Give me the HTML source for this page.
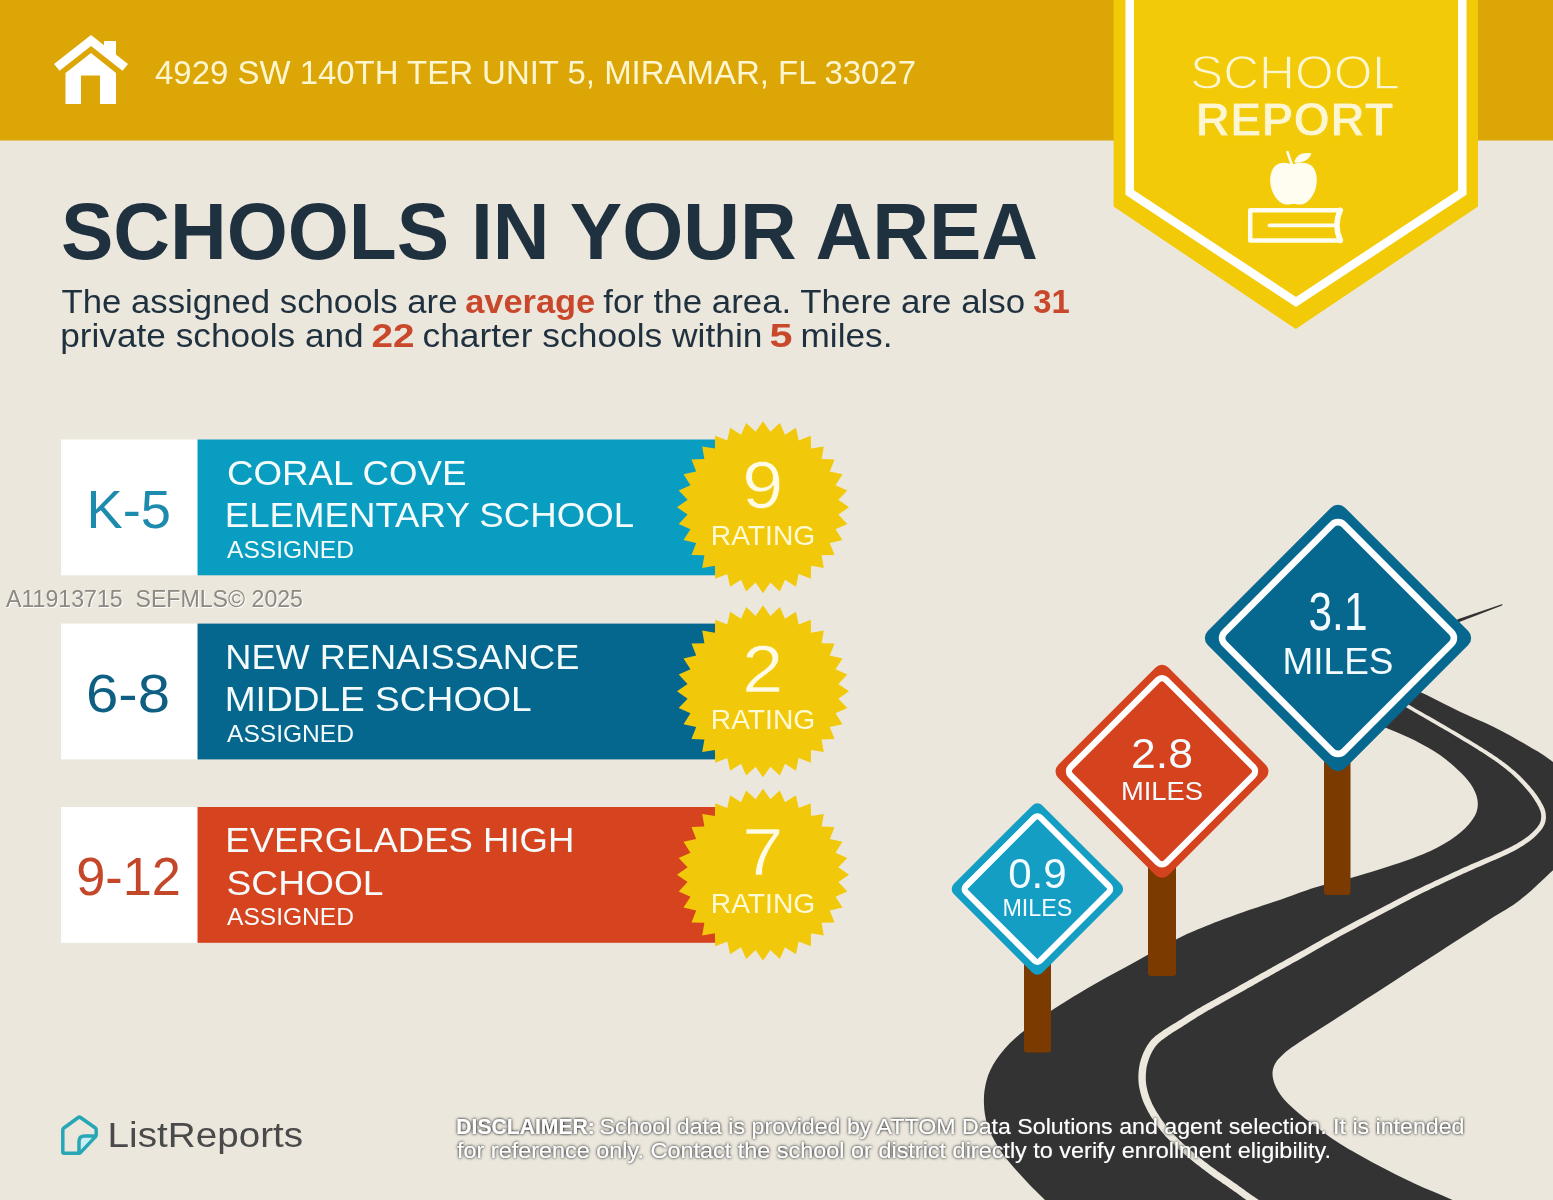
<!DOCTYPE html>
<html lang="en"><head><meta charset="utf-8"><title>School Report</title>
<style>html,body{margin:0;padding:0;background:#EBE7DD;}body{width:1553px;height:1200px;overflow:hidden;}svg{display:block;font-family:"Liberation Sans", sans-serif;}</style></head><body>
<svg width="1553" height="1200" viewBox="0 0 1553 1200">
<defs><filter id="glow" x="-5%" y="-30%" width="110%" height="160%"><feGaussianBlur in="SourceAlpha" stdDeviation="1.5" result="b"/><feComponentTransfer in="b" result="b2"><feFuncA type="linear" slope="1.5"/></feComponentTransfer><feFlood flood-color="#3a3a3a"/><feComposite in2="b2" operator="in" result="sh"/><feMerge><feMergeNode in="sh"/><feMergeNode in="SourceGraphic"/></feMerge></filter></defs>
<rect width="1553" height="1200" fill="#EBE7DD"/>
<g opacity="0.999">
<rect x="0" y="0" width="1553" height="140.5" fill="#DCA606"/>
<g fill="#fff">
<path d="M91,35 L54,64 L59.5,70.8 L91,46 L122.5,70.8 L128,64 Z"/>
<path d="M104,41 H116 V57 L104,47 Z"/>
<path d="M91,53 L116,73 V104 H100 V75.5 H81 V104 H65.5 V73 Z"/>
</g>
<text x="155.0" y="84.0" font-size="32.7" fill="#FDF6D0" textLength="761.0" lengthAdjust="spacingAndGlyphs">4929 SW 140TH TER UNIT 5, MIRAMAR, FL 33027</text>
<polygon points="1113.6,0 1478,0 1478,206.5 1295.8,329 1113.6,206.5" fill="#F2CA07"/>
<polyline points="1129.7,-6 1129.7,192.5 1296,302 1462.3,192.5 1462.3,-6" fill="none" stroke="#fff" stroke-width="8.5" stroke-linejoin="miter"/>
<text x="1295.0" y="89.0" font-size="48.5" fill="#FDF6D0" textLength="210.0" lengthAdjust="spacingAndGlyphs" text-anchor="middle" stroke="#F2CA07" stroke-width="1.3">SCHOOL</text>
<text x="1294.6" y="136.0" font-size="49.0" fill="#FDF6D0" font-weight="bold" textLength="198.0" lengthAdjust="spacingAndGlyphs" text-anchor="middle" stroke="#F2CA07" stroke-width="0.9">REPORT</text>
<g fill="#FFFDF0" stroke="none">
<path d="M1291.5,164.8 C1287,161.6 1279,162 1275,166 C1270,171 1269,181 1271.5,189 C1274,197 1280,204.6 1287,204.6 C1290,204.6 1291.5,203.9 1293.5,203.9 C1295.5,203.9 1297,204.6 1300,204.6 C1307,204.6 1313,197 1315.5,189 C1318,181 1317,171 1312,166 C1308,162 1298,161.6 1291.5,164.8 Z"/>
<path d="M1294.3,162.3 C1296,155 1303,151.8 1311.5,153.6 C1309,160.6 1301,163.8 1294.3,162.3 Z"/>
</g>
<path d="M1287.4,152 L1291.8,164.5" stroke="#FFFDF0" stroke-width="2.6" stroke-linecap="round" fill="none"/>
<g fill="none" stroke="#FFFDF0" stroke-linejoin="round" stroke-linecap="round">
<path d="M1340.3,210.2 H1250.2 V240.5 H1340.3" stroke-width="4.5"/>
<path d="M1340.3,210.2 Q1333.4,225.3 1340.3,240.5" stroke-width="5.6"/>
<path d="M1269.5,225.3 H1336" stroke-width="3.8"/>
</g>
<text x="61.0" y="259.0" font-size="80.0" fill="#1F303E" font-weight="bold" textLength="977.0" lengthAdjust="spacingAndGlyphs">SCHOOLS IN YOUR AREA</text>
<text x="61.5" y="313.3" font-size="32.8" fill="#1F303E" textLength="396.0" lengthAdjust="spacingAndGlyphs">The assigned schools are</text>
<text x="465.2" y="313.3" font-size="32.8" fill="#C9472B" font-weight="bold" textLength="130.0" lengthAdjust="spacingAndGlyphs">average</text>
<text x="603.2" y="313.3" font-size="32.8" fill="#1F303E" textLength="422.0" lengthAdjust="spacingAndGlyphs">for the area. There are also</text>
<text x="1033.2" y="313.3" font-size="32.8" fill="#C9472B" font-weight="bold" textLength="36.5" lengthAdjust="spacingAndGlyphs">31</text>
<text x="60.2" y="347.3" font-size="32.8" fill="#1F303E" textLength="303.5" lengthAdjust="spacingAndGlyphs">private schools and</text>
<text x="371.5" y="347.3" font-size="32.8" fill="#C9472B" font-weight="bold" textLength="43.0" lengthAdjust="spacingAndGlyphs">22</text>
<text x="422.5" y="347.3" font-size="32.8" fill="#1F303E" textLength="340.0" lengthAdjust="spacingAndGlyphs">charter schools within</text>
<text x="769.5" y="347.3" font-size="32.8" fill="#C9472B" font-weight="bold" textLength="23.0" lengthAdjust="spacingAndGlyphs">5</text>
<text x="800.5" y="347.3" font-size="32.8" fill="#1F303E" textLength="92.0" lengthAdjust="spacingAndGlyphs">miles.</text>
<rect x="61" y="439.5" width="137" height="135.8" fill="#fff"/>
<rect x="197.5" y="439.5" width="518" height="135.8" fill="#0A9DC2"/>
<text x="86.5" y="527.5" font-size="54.5" fill="#1C8BAE" textLength="84.5" lengthAdjust="spacingAndGlyphs">K-5</text>
<text x="227.0" y="484.5" font-size="35.6" fill="#F4FBFA" textLength="239.5" lengthAdjust="spacingAndGlyphs">CORAL COVE</text>
<text x="224.7" y="527.1" font-size="35.6" fill="#F4FBFA" textLength="409.5" lengthAdjust="spacingAndGlyphs">ELEMENTARY SCHOOL</text>
<text x="227.0" y="557.5" font-size="24.0" fill="#F4FBFA" textLength="127.0" lengthAdjust="spacingAndGlyphs">ASSIGNED</text>
<polygon points="763.0,421.2 770.4,431.8 779.8,422.9 785.0,434.7 795.9,427.7 798.7,440.4 810.8,435.7 811.1,448.6 823.8,446.4 821.6,459.1 834.5,459.4 829.8,471.5 842.5,474.3 835.5,485.2 847.3,490.4 838.4,499.8 849.0,507.2 838.4,514.6 847.3,524.0 835.5,529.2 842.5,540.1 829.8,542.9 834.5,555.0 821.6,555.3 823.8,568.0 811.1,565.8 810.8,578.7 798.7,574.0 795.9,586.7 785.0,579.7 779.8,591.5 770.4,582.6 763.0,593.2 755.6,582.6 746.2,591.5 741.0,579.7 730.1,586.7 727.3,574.0 715.2,578.7 714.9,565.8 702.2,568.0 704.4,555.3 691.5,555.0 696.2,542.9 683.5,540.1 690.5,529.2 678.7,524.0 687.6,514.6 677.0,507.2 687.6,499.8 678.7,490.4 690.5,485.2 683.5,474.3 696.2,471.5 691.5,459.4 704.4,459.1 702.2,446.4 714.9,448.6 715.2,435.7 727.3,440.4 730.1,427.7 741.0,434.7 746.2,422.9 755.6,431.8" fill="#F2C90A"/>
<text x="762.8" y="507.7" font-size="67.0" fill="#FFFBE6" textLength="41.0" lengthAdjust="spacingAndGlyphs" text-anchor="middle" stroke="#F2C90A" stroke-width="0.6">9</text>
<text x="763.0" y="545.1" font-size="27.6" fill="#FFF9D6" textLength="104.5" lengthAdjust="spacingAndGlyphs" text-anchor="middle">RATING</text>
<rect x="61" y="623.6" width="137" height="135.8" fill="#fff"/>
<rect x="197.5" y="623.6" width="518" height="135.8" fill="#05668E"/>
<text x="86.0" y="711.6" font-size="54.5" fill="#0F5F82" textLength="84.0" lengthAdjust="spacingAndGlyphs">6-8</text>
<text x="225.3" y="668.6" font-size="35.6" fill="#F4FBFA" textLength="354.0" lengthAdjust="spacingAndGlyphs">NEW RENAISSANCE</text>
<text x="224.7" y="711.2" font-size="35.6" fill="#F4FBFA" textLength="307.0" lengthAdjust="spacingAndGlyphs">MIDDLE SCHOOL</text>
<text x="227.0" y="741.6" font-size="24.0" fill="#F4FBFA" textLength="127.0" lengthAdjust="spacingAndGlyphs">ASSIGNED</text>
<polygon points="763.0,605.3 770.4,615.9 779.8,607.0 785.0,618.8 795.9,611.8 798.7,624.5 810.8,619.8 811.1,632.7 823.8,630.5 821.6,643.2 834.5,643.5 829.8,655.6 842.5,658.4 835.5,669.3 847.3,674.5 838.4,683.9 849.0,691.3 838.4,698.7 847.3,708.1 835.5,713.3 842.5,724.2 829.8,727.0 834.5,739.1 821.6,739.4 823.8,752.1 811.1,749.9 810.8,762.8 798.7,758.1 795.9,770.8 785.0,763.8 779.8,775.6 770.4,766.7 763.0,777.3 755.6,766.7 746.2,775.6 741.0,763.8 730.1,770.8 727.3,758.1 715.2,762.8 714.9,749.9 702.2,752.1 704.4,739.4 691.5,739.1 696.2,727.0 683.5,724.2 690.5,713.3 678.7,708.1 687.6,698.7 677.0,691.3 687.6,683.9 678.7,674.5 690.5,669.3 683.5,658.4 696.2,655.6 691.5,643.5 704.4,643.2 702.2,630.5 714.9,632.7 715.2,619.8 727.3,624.5 730.1,611.8 741.0,618.8 746.2,607.0 755.6,615.9" fill="#F2C90A"/>
<text x="762.8" y="691.8" font-size="67.0" fill="#FFFBE6" textLength="41.0" lengthAdjust="spacingAndGlyphs" text-anchor="middle" stroke="#F2C90A" stroke-width="0.6">2</text>
<text x="763.0" y="729.2" font-size="27.6" fill="#FFF9D6" textLength="104.5" lengthAdjust="spacingAndGlyphs" text-anchor="middle">RATING</text>
<rect x="61" y="807.0" width="137" height="135.8" fill="#fff"/>
<rect x="197.5" y="807.0" width="518" height="135.8" fill="#D6431F"/>
<text x="76.2" y="895.0" font-size="54.5" fill="#C4472A" textLength="104.7" lengthAdjust="spacingAndGlyphs">9-12</text>
<text x="225.3" y="852.0" font-size="35.6" fill="#F4FBFA" textLength="349.0" lengthAdjust="spacingAndGlyphs">EVERGLADES HIGH</text>
<text x="226.5" y="894.6" font-size="35.6" fill="#F4FBFA" textLength="157.0" lengthAdjust="spacingAndGlyphs">SCHOOL</text>
<text x="227.0" y="925.0" font-size="24.0" fill="#F4FBFA" textLength="127.0" lengthAdjust="spacingAndGlyphs">ASSIGNED</text>
<polygon points="763.0,788.7 770.4,799.3 779.8,790.4 785.0,802.2 795.9,795.2 798.7,807.9 810.8,803.2 811.1,816.1 823.8,813.9 821.6,826.6 834.5,826.9 829.8,839.0 842.5,841.8 835.5,852.7 847.3,857.9 838.4,867.3 849.0,874.7 838.4,882.1 847.3,891.5 835.5,896.7 842.5,907.6 829.8,910.4 834.5,922.5 821.6,922.8 823.8,935.5 811.1,933.3 810.8,946.2 798.7,941.5 795.9,954.2 785.0,947.2 779.8,959.0 770.4,950.1 763.0,960.7 755.6,950.1 746.2,959.0 741.0,947.2 730.1,954.2 727.3,941.5 715.2,946.2 714.9,933.3 702.2,935.5 704.4,922.8 691.5,922.5 696.2,910.4 683.5,907.6 690.5,896.7 678.7,891.5 687.6,882.1 677.0,874.7 687.6,867.3 678.7,857.9 690.5,852.7 683.5,841.8 696.2,839.0 691.5,826.9 704.4,826.6 702.2,813.9 714.9,816.1 715.2,803.2 727.3,807.9 730.1,795.2 741.0,802.2 746.2,790.4 755.6,799.3" fill="#F2C90A"/>
<text x="762.8" y="875.2" font-size="67.0" fill="#FFFBE6" textLength="41.0" lengthAdjust="spacingAndGlyphs" text-anchor="middle" stroke="#F2C90A" stroke-width="0.6">7</text>
<text x="763.0" y="912.6" font-size="27.6" fill="#FFF9D6" textLength="104.5" lengthAdjust="spacingAndGlyphs" text-anchor="middle">RATING</text>
<text x="7.0" y="608.0" font-size="23.0" fill="#ffffff" textLength="297.0" lengthAdjust="spacingAndGlyphs">A11913715&#160;&#160;SEFMLS&#169; 2025</text>
<text x="6.0" y="607.0" font-size="23.0" fill="#8C8882" textLength="297.0" lengthAdjust="spacingAndGlyphs">A11913715&#160;&#160;SEFMLS&#169; 2025</text>
<path d="M1344.0,712.0 C1347.7,713.3 1358.3,717.1 1366.0,720.0 C1373.7,722.9 1381.8,726.1 1390.0,729.5 C1398.2,732.9 1406.7,736.2 1415.0,740.5 C1423.3,744.8 1432.8,750.0 1440.0,755.0 C1447.2,760.0 1453.3,765.6 1458.5,770.5 C1463.7,775.4 1467.8,779.6 1471.0,784.5 C1474.2,789.4 1476.8,794.8 1477.5,800.0 C1478.2,805.2 1477.8,810.2 1475.0,815.5 C1472.2,820.8 1467.2,826.7 1461.0,832.0 C1454.8,837.3 1446.8,842.7 1437.5,847.5 C1428.2,852.3 1419.2,856.0 1405.0,861.0 C1390.8,866.0 1367.5,873.1 1352.5,877.5 C1337.5,881.9 1326.7,883.9 1315.0,887.5 C1303.3,891.1 1295.8,894.4 1282.5,899.0 C1269.2,903.6 1249.2,909.9 1235.0,915.0 C1220.8,920.1 1207.5,925.3 1197.5,929.5 C1187.5,933.7 1185.4,934.6 1175.0,940.0 C1164.6,945.4 1147.9,954.9 1135.0,962.0 C1122.1,969.1 1110.0,975.3 1097.5,982.5 C1085.0,989.7 1070.4,998.3 1060.0,1005.0 C1049.6,1011.7 1043.3,1016.2 1035.0,1022.5 C1026.7,1028.8 1017.0,1035.9 1010.0,1043.0 C1003.0,1050.1 997.1,1058.0 993.0,1065.0 C988.9,1072.0 987.0,1078.3 985.5,1085.0 C984.0,1091.7 983.7,1098.3 984.0,1105.0 C984.3,1111.7 985.3,1118.3 987.5,1125.0 C989.7,1131.7 993.2,1138.7 997.0,1145.0 C1000.8,1151.3 1004.9,1156.8 1010.0,1163.0 C1015.1,1169.2 1021.7,1176.3 1027.5,1182.5 C1033.3,1188.7 1038.2,1193.4 1045.0,1200.0 C1051.8,1206.6 1064.2,1218.3 1068.0,1222.0 L1492.0,1220.0 C1485.4,1216.7 1465.3,1206.0 1452.5,1200.0 C1439.7,1194.0 1427.5,1189.5 1415.0,1183.7 C1402.5,1177.9 1390.0,1171.7 1377.5,1165.0 C1365.0,1158.3 1350.4,1150.2 1340.0,1143.7 C1329.6,1137.2 1322.5,1131.6 1315.0,1126.0 C1307.5,1120.4 1300.4,1114.8 1295.0,1110.0 C1289.6,1105.2 1285.8,1101.7 1282.5,1097.5 C1279.2,1093.3 1276.7,1089.1 1275.0,1085.0 C1273.3,1080.9 1272.4,1076.7 1272.5,1073.0 C1272.6,1069.3 1273.8,1066.1 1275.5,1063.0 C1277.2,1059.9 1279.8,1057.5 1283.0,1054.5 C1286.2,1051.5 1285.5,1051.6 1295.0,1045.2 C1304.5,1038.8 1324.2,1026.2 1340.0,1016.0 C1355.8,1005.8 1373.3,994.5 1390.0,983.7 C1406.7,973.0 1423.3,962.2 1440.0,951.5 C1456.7,940.8 1476.7,927.9 1490.0,919.3 C1503.3,910.7 1509.8,907.9 1520.0,900.0 C1530.2,892.1 1541.3,881.2 1551.0,872.0 C1560.7,862.8 1571.5,854.5 1578.0,845.0 C1584.5,835.5 1589.7,824.5 1590.0,815.0 C1590.3,805.5 1586.2,796.8 1580.0,788.0 C1573.8,779.2 1561.9,769.2 1553.0,762.0 C1544.1,754.8 1536.7,750.9 1526.7,745.0 C1516.8,739.1 1504.4,732.2 1493.3,726.7 C1482.2,721.2 1471.1,717.0 1460.0,711.7 C1448.9,706.4 1436.7,699.8 1426.7,695.0 C1416.7,690.2 1408.6,686.8 1400.0,683.0 C1391.4,679.2 1379.2,673.8 1375.0,672.0 Z" fill="#333333"/>
<polygon points="1502.5,604 1502,605.6 1458,622.5 1457,619.5" fill="#333333"/>
<polygon points="1394.0,699.5 1394.6,699.9 1395.2,700.3 1395.9,700.7 1396.7,701.2 1397.5,701.8 1398.4,702.4 1399.4,703.1 1400.5,703.8 1401.7,704.5 1403.0,705.3 1404.4,706.2 1405.8,707.1 1407.4,708.0 1409.1,709.0 1410.9,710.1 1412.9,711.3 1415.0,712.5 1417.3,713.8 1419.6,715.2 1422.1,716.6 1424.6,718.0 1427.2,719.5 1429.7,721.0 1432.3,722.5 1434.9,724.0 1437.5,725.4 1439.9,726.9 1442.4,728.3 1444.8,729.7 1447.2,731.1 1449.7,732.6 1452.1,734.1 1454.6,735.5 1457.1,737.0 1459.6,738.5 1462.0,739.9 1464.4,741.4 1466.8,742.8 1469.1,744.2 1471.4,745.6 1473.6,747.0 1475.7,748.3 1477.7,749.6 1479.7,750.9 1481.7,752.1 1483.6,753.3 1485.5,754.5 1487.3,755.7 1489.1,756.9 1490.8,758.1 1492.5,759.2 1494.2,760.3 1495.8,761.5 1497.4,762.6 1499.0,763.8 1500.5,764.9 1502.0,766.0 1503.5,767.2 1504.9,768.3 1506.2,769.3 1507.5,770.4 1508.8,771.5 1510.1,772.6 1511.3,773.6 1512.5,774.7 1513.7,775.8 1514.9,776.9 1516.1,778.1 1517.3,779.3 1518.5,780.5 1519.7,781.7 1520.9,783.0 1522.2,784.3 1523.4,785.7 1524.6,787.1 1525.8,788.4 1527.0,789.8 1528.2,791.2 1529.3,792.6 1530.4,794.0 1531.4,795.3 1532.4,796.7 1533.3,798.0 1534.1,799.2 1534.9,800.5 1535.7,801.7 1536.5,803.0 1537.2,804.2 1537.8,805.4 1538.5,806.6 1539.0,807.7 1539.5,808.9 1540.0,810.0 1540.3,811.1 1540.7,812.1 1540.9,813.2 1541.1,814.2 1541.2,815.2 1541.2,816.2 1541.2,817.2 1541.1,818.1 1541.0,819.0 1540.9,819.9 1540.7,820.8 1540.4,821.7 1540.1,822.6 1539.7,823.5 1539.2,824.4 1538.6,825.3 1537.9,826.3 1537.1,827.4 1536.2,828.4 1535.2,829.5 1534.1,830.7 1533.0,831.8 1531.8,832.9 1530.6,834.0 1529.2,835.2 1527.8,836.4 1526.2,837.5 1524.5,838.8 1522.7,840.0 1520.7,841.3 1518.6,842.6 1516.3,843.9 1513.8,845.3 1511.1,846.7 1508.1,848.2 1504.8,849.8 1501.3,851.4 1497.6,853.1 1493.8,854.7 1489.9,856.4 1486.0,858.1 1482.0,859.8 1478.1,861.4 1474.4,863.1 1470.7,864.6 1467.2,866.2 1463.9,867.6 1460.8,869.0 1457.8,870.4 1454.8,871.8 1451.9,873.1 1449.1,874.4 1446.3,875.7 1443.6,877.0 1440.9,878.2 1438.3,879.4 1435.8,880.6 1433.3,881.8 1430.9,882.9 1428.6,884.0 1426.3,885.1 1424.2,886.1 1422.4,886.9 1420.8,887.7 1419.4,888.4 1418.0,889.0 1416.7,889.7 1415.3,890.3 1413.9,891.0 1412.4,891.8 1410.7,892.6 1408.8,893.6 1406.7,894.7 1404.1,896.0 1401.2,897.5 1397.8,899.3 1394.0,901.2 1389.9,903.4 1385.4,905.7 1380.7,908.2 1375.8,910.7 1370.8,913.3 1365.8,915.9 1360.8,918.6 1355.9,921.1 1351.2,923.6 1346.7,926.0 1342.4,928.3 1338.6,930.4 1335.0,932.3 1331.6,934.2 1328.4,935.9 1325.3,937.6 1322.4,939.3 1319.5,940.9 1316.8,942.4 1314.1,944.0 1311.5,945.5 1308.9,946.9 1306.3,948.4 1303.7,949.9 1301.1,951.3 1298.5,952.8 1295.8,954.3 1293.2,955.7 1290.6,957.2 1288.1,958.6 1285.5,960.0 1283.0,961.4 1280.5,962.8 1278.1,964.1 1275.6,965.5 1273.2,966.8 1270.8,968.2 1268.3,969.5 1265.9,970.9 1263.5,972.3 1261.0,973.6 1258.6,975.0 1256.2,976.3 1253.8,977.7 1251.4,979.0 1249.0,980.3 1246.6,981.7 1244.2,983.0 1241.9,984.3 1239.6,985.6 1237.2,986.9 1235.0,988.2 1232.7,989.5 1230.4,990.7 1228.2,991.9 1226.0,993.2 1223.8,994.4 1221.6,995.6 1219.4,996.8 1217.2,998.0 1215.0,999.2 1212.9,1000.4 1210.8,1001.5 1208.7,1002.7 1206.7,1003.8 1204.7,1004.9 1202.7,1006.1 1200.8,1007.2 1199.0,1008.2 1197.1,1009.3 1195.3,1010.4 1193.6,1011.5 1191.9,1012.5 1190.2,1013.6 1188.6,1014.6 1187.0,1015.6 1185.4,1016.6 1183.9,1017.6 1182.4,1018.5 1180.9,1019.4 1179.5,1020.3 1178.2,1021.1 1176.9,1021.9 1175.6,1022.7 1174.4,1023.4 1173.3,1024.1 1172.1,1024.8 1171.0,1025.5 1170.0,1026.1 1168.9,1026.8 1167.9,1027.4 1166.9,1028.0 1165.9,1028.7 1164.9,1029.3 1163.9,1030.0 1163.0,1030.6 1162.1,1031.3 1161.2,1031.9 1160.3,1032.5 1159.4,1033.1 1158.5,1033.7 1157.7,1034.4 1156.8,1035.0 1156.0,1035.6 1155.2,1036.3 1154.4,1037.0 1153.6,1037.7 1152.8,1038.5 1152.0,1039.3 1151.2,1040.1 1150.5,1041.0 1149.8,1041.8 1149.1,1042.7 1148.5,1043.7 1147.9,1044.6 1147.2,1045.5 1146.7,1046.5 1146.1,1047.5 1145.5,1048.5 1145.0,1049.5 1144.5,1050.5 1144.0,1051.5 1143.5,1052.5 1143.1,1053.6 1142.7,1054.6 1142.2,1055.7 1141.8,1056.8 1141.5,1057.8 1141.1,1058.9 1140.8,1060.1 1140.4,1061.2 1140.1,1062.4 1139.8,1063.5 1139.6,1064.7 1139.4,1065.9 1139.1,1067.1 1139.0,1068.4 1138.8,1069.6 1138.7,1070.8 1138.6,1072.1 1138.5,1073.3 1138.4,1074.6 1138.4,1075.9 1138.4,1077.2 1138.4,1078.5 1138.4,1079.8 1138.5,1081.2 1138.6,1082.6 1138.7,1084.0 1138.9,1085.4 1139.1,1086.8 1139.4,1088.2 1139.7,1089.6 1140.0,1091.1 1140.4,1092.5 1140.7,1093.9 1141.2,1095.4 1141.6,1096.9 1142.1,1098.4 1142.6,1099.9 1143.2,1101.4 1143.8,1102.9 1144.5,1104.5 1145.2,1106.0 1146.0,1107.6 1146.8,1109.2 1147.6,1110.8 1148.5,1112.4 1149.5,1114.0 1150.4,1115.7 1151.5,1117.4 1152.6,1119.1 1153.7,1120.8 1154.8,1122.4 1156.0,1124.1 1157.2,1125.8 1158.4,1127.5 1159.7,1129.1 1160.9,1130.7 1162.2,1132.3 1163.5,1133.8 1164.9,1135.4 1166.2,1136.9 1167.6,1138.3 1169.0,1139.8 1170.4,1141.3 1171.9,1142.7 1173.4,1144.1 1174.9,1145.5 1176.4,1146.9 1177.9,1148.4 1179.5,1149.8 1181.1,1151.2 1182.7,1152.6 1184.3,1154.1 1186.0,1155.5 1187.8,1157.0 1189.6,1158.5 1191.4,1160.0 1193.2,1161.4 1195.0,1162.9 1196.9,1164.4 1198.7,1165.8 1200.6,1167.2 1202.4,1168.7 1204.3,1170.1 1206.1,1171.4 1207.9,1172.8 1209.7,1174.2 1211.6,1175.5 1213.5,1176.9 1215.3,1178.2 1217.2,1179.5 1219.1,1180.8 1221.0,1182.1 1222.8,1183.4 1224.6,1184.6 1226.4,1185.8 1228.2,1187.0 1229.8,1188.2 1231.4,1189.3 1233.0,1190.4 1234.4,1191.4 1235.8,1192.3 1237.0,1193.2 1238.2,1194.1 1239.3,1194.9 1240.4,1195.7 1241.5,1196.5 1242.6,1197.4 1243.8,1198.2 1245.0,1199.0 1246.2,1199.9 1247.5,1200.8 1249.0,1201.8 1250.5,1202.9 1252.3,1204.1 1254.2,1205.4 1256.3,1206.7 1258.5,1208.2 1260.8,1209.7 1263.1,1211.2 1265.4,1212.7 1267.7,1214.2 1269.9,1215.6 1272.0,1216.9 1273.8,1218.2 1275.5,1219.3 1276.9,1220.2 1278.1,1220.9 1281.9,1215.1 1280.8,1214.3 1279.3,1213.4 1277.7,1212.3 1275.8,1211.1 1273.7,1209.7 1271.5,1208.3 1269.3,1206.8 1266.9,1205.3 1264.6,1203.8 1262.4,1202.3 1260.2,1200.9 1258.1,1199.5 1256.2,1198.3 1254.5,1197.1 1252.9,1196.1 1251.5,1195.1 1250.2,1194.2 1249.0,1193.3 1247.9,1192.5 1246.8,1191.7 1245.7,1190.9 1244.6,1190.1 1243.5,1189.3 1242.3,1188.4 1241.1,1187.6 1239.8,1186.7 1238.5,1185.7 1237.0,1184.6 1235.4,1183.5 1233.8,1182.4 1232.1,1181.2 1230.4,1180.0 1228.6,1178.8 1226.8,1177.6 1225.0,1176.3 1223.1,1175.1 1221.2,1173.8 1219.4,1172.5 1217.5,1171.2 1215.7,1169.8 1213.9,1168.5 1212.1,1167.2 1210.3,1165.9 1208.5,1164.5 1206.7,1163.1 1204.8,1161.7 1203.0,1160.3 1201.2,1158.8 1199.4,1157.4 1197.6,1156.0 1195.8,1154.5 1194.0,1153.1 1192.3,1151.6 1190.6,1150.2 1188.9,1148.8 1187.3,1147.4 1185.7,1146.0 1184.2,1144.6 1182.7,1143.2 1181.2,1141.8 1179.7,1140.4 1178.3,1139.0 1176.9,1137.6 1175.5,1136.2 1174.1,1134.8 1172.8,1133.5 1171.5,1132.0 1170.2,1130.6 1169.0,1129.2 1167.8,1127.7 1166.6,1126.2 1165.4,1124.7 1164.2,1123.1 1163.0,1121.6 1161.9,1120.0 1160.8,1118.4 1159.7,1116.7 1158.7,1115.1 1157.6,1113.5 1156.7,1111.9 1155.7,1110.4 1154.9,1108.8 1154.0,1107.3 1153.2,1105.8 1152.5,1104.4 1151.8,1103.0 1151.2,1101.5 1150.6,1100.1 1150.1,1098.7 1149.5,1097.4 1149.1,1096.0 1148.6,1094.6 1148.2,1093.3 1147.8,1092.0 1147.5,1090.7 1147.2,1089.4 1146.9,1088.1 1146.6,1086.8 1146.4,1085.5 1146.2,1084.3 1146.1,1083.1 1145.9,1081.9 1145.9,1080.7 1145.8,1079.6 1145.8,1078.4 1145.8,1077.2 1145.8,1076.1 1145.8,1074.9 1145.9,1073.8 1146.0,1072.6 1146.1,1071.5 1146.2,1070.4 1146.3,1069.3 1146.5,1068.3 1146.6,1067.2 1146.8,1066.2 1147.1,1065.2 1147.3,1064.2 1147.6,1063.2 1147.9,1062.2 1148.2,1061.2 1148.5,1060.2 1148.8,1059.3 1149.2,1058.3 1149.5,1057.4 1149.9,1056.4 1150.3,1055.5 1150.7,1054.6 1151.1,1053.7 1151.6,1052.8 1152.0,1052.0 1152.5,1051.1 1153.0,1050.3 1153.5,1049.4 1154.0,1048.6 1154.5,1047.8 1155.1,1047.1 1155.6,1046.3 1156.2,1045.6 1156.8,1044.9 1157.3,1044.2 1157.9,1043.6 1158.5,1043.0 1159.2,1042.4 1159.8,1041.8 1160.5,1041.2 1161.2,1040.6 1162.0,1040.1 1162.7,1039.5 1163.5,1038.9 1164.4,1038.3 1165.2,1037.7 1166.1,1037.0 1167.0,1036.4 1167.9,1035.7 1168.8,1035.1 1169.7,1034.5 1170.7,1033.9 1171.6,1033.3 1172.6,1032.6 1173.6,1032.0 1174.6,1031.3 1175.7,1030.7 1176.8,1030.0 1178.0,1029.3 1179.2,1028.5 1180.5,1027.7 1181.8,1026.9 1183.2,1026.0 1184.6,1025.1 1186.0,1024.2 1187.5,1023.2 1189.0,1022.3 1190.5,1021.3 1192.1,1020.3 1193.8,1019.2 1195.4,1018.2 1197.1,1017.1 1198.8,1016.1 1200.6,1015.0 1202.4,1013.9 1204.2,1012.8 1206.0,1011.8 1207.9,1010.6 1209.9,1009.5 1211.9,1008.4 1214.0,1007.2 1216.1,1006.1 1218.2,1004.9 1220.3,1003.7 1222.5,1002.5 1224.7,1001.3 1226.9,1000.0 1229.1,998.8 1231.3,997.5 1233.6,996.3 1235.8,995.0 1238.1,993.8 1240.4,992.5 1242.7,991.2 1245.0,989.9 1247.3,988.5 1249.7,987.2 1252.1,985.9 1254.5,984.5 1256.9,983.2 1259.3,981.8 1261.7,980.5 1264.1,979.1 1266.5,977.7 1269.0,976.4 1271.4,975.0 1273.8,973.7 1276.2,972.3 1278.7,971.0 1281.1,969.6 1283.6,968.2 1286.1,966.8 1288.6,965.5 1291.1,964.0 1293.6,962.6 1296.2,961.2 1298.9,959.7 1301.5,958.2 1304.2,956.7 1306.8,955.2 1309.4,953.7 1311.9,952.3 1314.5,950.8 1317.1,949.3 1319.8,947.7 1322.5,946.2 1325.3,944.6 1328.3,942.9 1331.3,941.2 1334.5,939.4 1337.9,937.6 1341.4,935.6 1345.3,933.5 1349.5,931.3 1354.0,928.9 1358.7,926.3 1363.6,923.7 1368.5,921.1 1373.5,918.4 1378.5,915.8 1383.4,913.2 1388.0,910.8 1392.5,908.4 1396.7,906.2 1400.4,904.2 1403.8,902.5 1406.7,901.0 1409.2,899.7 1411.4,898.5 1413.3,897.5 1414.9,896.7 1416.4,895.9 1417.8,895.2 1419.1,894.6 1420.4,894.0 1421.7,893.3 1423.2,892.6 1424.8,891.8 1426.6,890.9 1428.7,889.9 1430.9,888.8 1433.2,887.7 1435.6,886.6 1438.1,885.4 1440.6,884.2 1443.2,883.0 1445.8,881.8 1448.5,880.5 1451.3,879.2 1454.1,877.9 1457.0,876.6 1460.0,875.2 1463.0,873.8 1466.1,872.4 1469.3,870.9 1472.8,869.4 1476.4,867.8 1480.2,866.2 1484.1,864.5 1488.0,862.8 1491.9,861.1 1495.8,859.4 1499.7,857.7 1503.4,856.0 1506.9,854.4 1510.3,852.8 1513.4,851.2 1516.2,849.7 1518.8,848.3 1521.1,846.8 1523.4,845.5 1525.4,844.1 1527.3,842.8 1529.1,841.5 1530.8,840.2 1532.3,838.9 1533.8,837.7 1535.1,836.4 1536.4,835.2 1537.6,834.0 1538.7,832.8 1539.8,831.6 1540.8,830.4 1541.7,829.2 1542.6,828.0 1543.3,826.8 1543.9,825.6 1544.5,824.4 1544.9,823.2 1545.3,822.1 1545.5,820.9 1545.7,819.7 1545.9,818.5 1545.9,817.3 1545.9,816.1 1545.8,814.8 1545.7,813.5 1545.5,812.2 1545.2,810.9 1544.8,809.6 1544.3,808.3 1543.8,807.0 1543.2,805.8 1542.5,804.5 1541.8,803.2 1541.1,801.9 1540.4,800.6 1539.6,799.4 1538.7,798.1 1537.9,796.8 1537.0,795.4 1536.0,794.1 1534.9,792.7 1533.9,791.3 1532.7,789.8 1531.5,788.4 1530.3,787.0 1529.1,785.6 1527.8,784.2 1526.6,782.8 1525.3,781.4 1524.0,780.1 1522.7,778.8 1521.5,777.5 1520.3,776.3 1519.0,775.1 1517.8,773.9 1516.5,772.8 1515.3,771.6 1514.0,770.5 1512.7,769.4 1511.4,768.4 1510.1,767.3 1508.8,766.2 1507.4,765.1 1505.9,764.0 1504.4,762.8 1502.9,761.7 1501.3,760.5 1499.7,759.4 1498.1,758.2 1496.4,757.1 1494.7,755.9 1493.0,754.8 1491.2,753.6 1489.4,752.5 1487.6,751.3 1485.7,750.1 1483.8,748.9 1481.8,747.6 1479.8,746.4 1477.7,745.1 1475.6,743.8 1473.4,742.4 1471.1,741.0 1468.7,739.6 1466.4,738.2 1463.9,736.7 1461.5,735.3 1459.0,733.8 1456.5,732.3 1454.0,730.8 1451.5,729.4 1449.1,727.9 1446.6,726.5 1444.2,725.1 1441.8,723.7 1439.3,722.2 1436.7,720.8 1434.2,719.3 1431.6,717.8 1429.0,716.3 1426.4,714.9 1423.9,713.4 1421.4,712.0 1419.1,710.7 1416.8,709.4 1414.7,708.2 1412.7,707.0 1410.9,706.0 1409.3,705.0 1407.7,704.0 1406.3,703.1 1404.9,702.3 1403.6,701.5 1402.5,700.7 1401.4,700.0 1400.4,699.4 1399.5,698.8 1398.7,698.2 1397.9,697.7 1397.2,697.3 1396.5,696.9 1396.0,696.5" fill="#ECE8DD"/>
<path d="M1324.0,638.0 V892.0 a3,3 0 0 0 3,3 H1347.5 a3,3 0 0 0 3,-3 V638.0 Z" fill="#7A3A00"/>
<g transform="rotate(45 1338.0 638.0)">
<rect x="1240.9" y="540.9" width="194.2" height="194.2" rx="10.0" fill="#07688F"/>
<rect x="1253.7" y="553.7" width="168.6" height="168.6" rx="8.0" fill="none" stroke="#fff" stroke-width="6.6"/>
</g>
<text x="1338.0" y="630.0" font-size="53.3" fill="#F4FBFF" textLength="59.0" lengthAdjust="spacingAndGlyphs" text-anchor="middle">3.1</text>
<text x="1338.0" y="674.0" font-size="37.3" fill="#F4FBFF" textLength="111.0" lengthAdjust="spacingAndGlyphs" text-anchor="middle">MILES</text>
<path d="M1148.0,771.2 V973.0 a3,3 0 0 0 3,3 H1173.0 a3,3 0 0 0 3,-3 V771.2 Z" fill="#7A3A00"/>
<g transform="rotate(45 1162.0 771.2)">
<rect x="1084.1" y="693.3" width="155.9" height="155.9" rx="9.0" fill="#D5421E"/>
<rect x="1094.5" y="703.7" width="135.1" height="135.1" rx="6.0" fill="none" stroke="#fff" stroke-width="6.3"/>
</g>
<text x="1162.0" y="768.0" font-size="42.0" fill="#F4FBFF" textLength="62.0" lengthAdjust="spacingAndGlyphs" text-anchor="middle">2.8</text>
<text x="1162.0" y="800.0" font-size="25.4" fill="#F4FBFF" textLength="82.0" lengthAdjust="spacingAndGlyphs" text-anchor="middle">MILES</text>
<path d="M1024.0,889.0 V1049.5 a3,3 0 0 0 3,3 H1048.0 a3,3 0 0 0 3,-3 V889.0 Z" fill="#7A3A00"/>
<g transform="rotate(45 1037.4 889.0)">
<rect x="974.8" y="826.4" width="125.3" height="125.3" rx="7.0" fill="#149EC4"/>
<rect x="984.8" y="836.4" width="105.3" height="105.3" rx="4.0" fill="none" stroke="#fff" stroke-width="6.1"/>
</g>
<text x="1037.4" y="888.0" font-size="41.8" fill="#F4FBFF" textLength="58.5" lengthAdjust="spacingAndGlyphs" text-anchor="middle">0.9</text>
<text x="1037.4" y="916.0" font-size="23.6" fill="#F4FBFF" textLength="70.0" lengthAdjust="spacingAndGlyphs" text-anchor="middle">MILES</text>
<path d="M94.5,1137.5 H84.5 Q80.8,1137.5 80.8,1141.5 V1151.5 Z" fill="#C9EFF2"/>
<g fill="none" stroke="#27A6B6" stroke-width="3.5" stroke-linejoin="round" stroke-linecap="round">
<path d="M78.3,1117.5 Q79.4,1116.7 80.5,1117.5 L95.1,1127.8 Q96.2,1128.6 96.2,1129.9 L96.2,1134.7 Q96.2,1136.0 95.3,1136.9 L80.7,1152.4 Q79.8,1153.3 78.5,1153.3 L64.1,1153.3 Q62.8,1153.3 62.8,1152.0 L62.8,1130.1 Q62.8,1128.8 63.9,1128.0 Z"/>
<path d="M95.5,1135.9 H84.6 Q79,1135.9 79,1141.5 V1152.5"/>
</g>
<text x="107.6" y="1147.3" font-size="35.3" fill="#4A4A4A" textLength="195.5" lengthAdjust="spacingAndGlyphs">ListReports</text>
<g filter="url(#glow)" fill="#fff">
<text x="456.3" y="1134.0" font-size="22.8" fill="#fff" font-weight="bold" textLength="138.5" lengthAdjust="spacingAndGlyphs">DISCLAIMER:</text>
<text x="599.5" y="1134.0" font-size="22.8" fill="#fff" textLength="865.0" lengthAdjust="spacingAndGlyphs">School data is provided by ATTOM Data Solutions and agent selection. It is intended</text>
<text x="457.0" y="1157.6" font-size="22.8" fill="#fff" textLength="874.0" lengthAdjust="spacingAndGlyphs">for reference only. Contact the school or district directly to verify enrollment eligibility.</text>
</g>
</g>
</svg></body></html>
